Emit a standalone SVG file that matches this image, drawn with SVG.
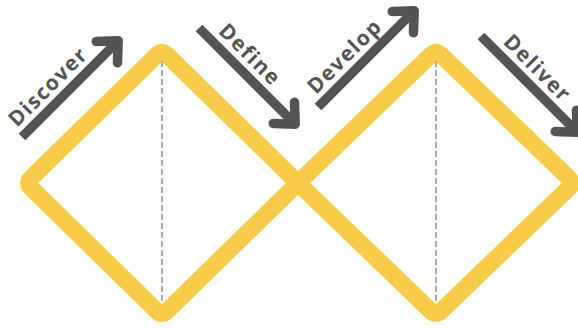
<svg xmlns="http://www.w3.org/2000/svg" width="578" height="329" viewBox="0 0 578 329">
<style>
.diamond{fill:none;stroke:#F8CC48;stroke-width:17;stroke-linejoin:round}
.axis{stroke:#ABABAB;stroke-width:2;stroke-dasharray:6 3}
.shaft{fill:none;stroke:#545454;stroke-width:9.5}
.head{fill:none;stroke:#545454;stroke-width:9.5;stroke-linecap:round;stroke-linejoin:round}
.lbl{font-family:"Open Sans","DejaVu Sans",sans-serif;font-weight:700;font-size:21px;letter-spacing:1.5px;fill:#545454}
</style>
<defs>
<g id="arrow">
<path class="shaft" d="M0,0 H134"/>
<path class="head" d="M120,-15 L136,0 L120,15"/>
</g>
</defs>
<rect width="578" height="329" fill="#ffffff"/>
<g id="diamond-1">
<path class="diamond" d="M157,54.9 Q162,50 167,54.9 L293,178.1 Q298,183 293,187.9 L167,311.1 Q162,316 157,311.1 L31,187.9 Q26,183 31,178.1 Z"/>
<line class="axis" x1="162" y1="61" x2="162" y2="304"/>
</g>
<g id="diamond-2">
<path class="diamond" d="M431,54.9 Q436,50 441,54.9 L569,178.1 Q574,183 569,187.9 L441,311.1 Q436,316 431,311.1 L303,187.9 Q298,183 303,178.1 Z"/>
<line class="axis" x1="436" y1="61" x2="436" y2="304"/>
</g>
<g id="connectors">
<g id="discover" transform="translate(22,137) rotate(-45)">
<use href="#arrow"/>
<text class="lbl" x="3" y="-10">Discover</text>
</g>
<g id="define" transform="translate(199,28) rotate(45)">
<use href="#arrow"/>
<text class="lbl" x="16" y="-10">Define</text>
</g>
<g id="develop" transform="translate(318,107) rotate(-45)">
<use href="#arrow"/>
<text class="lbl" x="7" y="-10">Develop</text>
</g>
<g id="deliver" transform="translate(481,36) rotate(45)">
<use href="#arrow"/>
<text class="lbl" x="20" y="-10">Deliver</text>
</g>
</g>
</svg>
